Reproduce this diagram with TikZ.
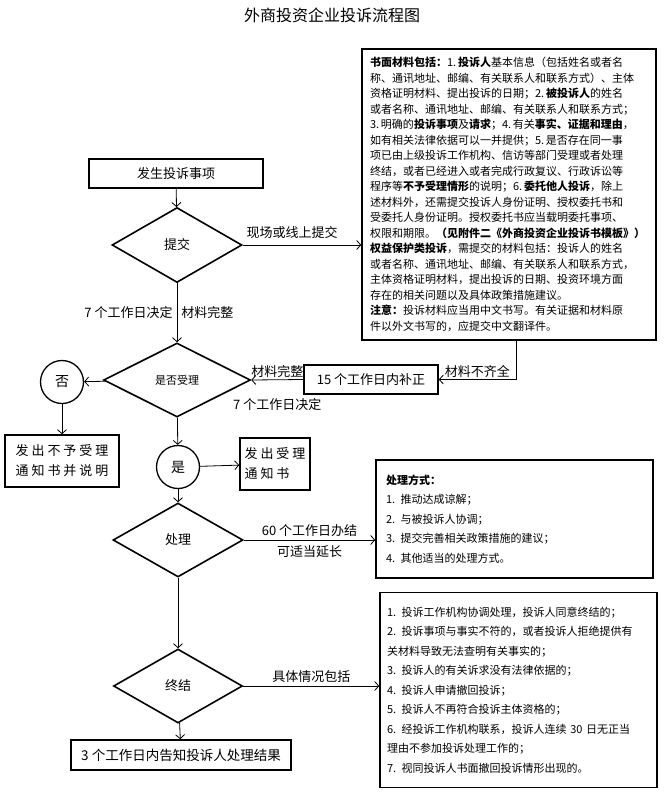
\documentclass[tikz,border=0pt]{standalone}
\usepackage{fontspec}
\setmainfont{Noto Sans CJK SC}
\usetikzlibrary{shapes.geometric,arrows.meta}

\begin{document}
\begin{tikzpicture}[x=1pt,y=-1pt,
  box/.style={draw,line width=1.6pt,inner sep=0pt,font=\fontsize{13}{20}\selectfont},
  dia/.style={draw,diamond,line width=1.6pt,inner sep=0pt,font=\fontsize{13}{16}\selectfont},
  ring/.style={draw,circle,line width=1.3pt,minimum size=43pt,inner sep=0pt,font=\fontsize{14}{16}\selectfont},
  arr/.style={line width=0.8pt,-{Straight Barb[length=4pt,width=9pt]}},
  lbl/.style={font=\fontsize{13}{16}\selectfont,inner sep=1pt}]
\useasboundingbox (0,0) rectangle (664,792);

\node[font=\fontsize{16}{18}\selectfont] (title) at (332,15) {外商投资企业投诉流程图};

%Hauptspalte
\node[box,minimum width=174pt,minimum height=29pt] (start) at (176,173.5) {发生投诉事项};
\node[dia,minimum width=130pt,minimum height=75pt] (submit) at (177,245) {提交};
\node[dia,minimum width=147pt,minimum height=74pt,font=\fontsize{11}{14}\selectfont] (accept) at (177,380) {是否受理};
\node[ring] (no) at (62,382) {否};
\node[box,minimum width=114pt,minimum height=52pt,align=center] (rejbox) at (62,461) {发 出 不 予 受 理\\通 知 书 并 说 明};
\node[ring] (yes) at (178,467) {是};
\node[box,minimum width=70pt,minimum height=52pt,align=left] (accbox) at (275,464) {发 出 受 理\\通 知 书};
\node[dia,minimum width=130pt,minimum height=74pt] (handle) at (178,540) {处理};
\node[dia,minimum width=129pt,minimum height=74pt] (finish) at (178,686) {终结};
\node[box,minimum width=220pt,minimum height=30pt,font=\fontsize{13.5}{16}\selectfont] (result) at (181,755) {3 个工作日内告知投诉人处理结果};
\node[box,minimum width=134pt,minimum height=29pt] (fix) at (371,379.5) {15 个工作日内补正};

%Textkästen
\node[box,minimum width=294pt,minimum height=291pt,text width=278pt,align=left,
  font=\fontsize{11}{15.5}\selectfont] (material) at (509,194.5) {%
\textbf{书面材料包括：}1.\,\textbf{投诉人}基本信息（包括姓名或者名\\
称、通讯地址、邮编、有关联系人和联系方式）、主体\\
资格证明材料、提出投诉的日期；2.\,\textbf{被投诉人}的姓名\\
或者名称、通讯地址、邮编、有关联系人和联系方式；\\
3.\,明确的\textbf{投诉事项}及\textbf{请求}；4.\,有关\textbf{事实、证据和理由}，\\
如有相关法律依据可以一并提供；5.\,是否存在同一事\\
项已由上级投诉工作机构、信访等部门受理或者处理\\
终结，或者已经进入或者完成行政复议、行政诉讼等\\
程序等\textbf{不予受理情形}的说明；6.\,\textbf{委托他人投诉}，除上\\
述材料外，还需提交投诉人身份证明、授权委托书和\\
受委托人身份证明。授权委托书应当载明委托事项、\\
权限和期限。\textbf{（见附件二《外商投资企业投诉书模板》）}\\
\textbf{权益保护类投诉}，需提交的材料包括：投诉人的姓名\\
或者名称、通讯地址、邮编、有关联系人和联系方式，\\
主体资格证明材料，提出投诉的日期、投资环境方面\\
存在的相关问题以及具体政策措施建议。\\
\textbf{注意：}投诉材料应当用中文书写。有关证据和材料原\\
件以外文书写的，应提交中文翻译件。};

\node[box,minimum width=277pt,minimum height=118pt,text width=257pt,align=left,
  font=\fontsize{11}{19.5}\selectfont] (waybox) at (514.5,519) {%
\textbf{处理方式：}\\
1.\enspace 推动达成谅解；\\
2.\enspace 与被投诉人协调；\\
3.\enspace 提交完善相关政策措施的建议；\\
4.\enspace 其他适当的处理方式。};

\node[box,minimum width=277pt,minimum height=195pt,text width=263pt,align=left,
  font=\fontsize{11}{19.5}\selectfont] (endbox) at (518.5,690) {%
1.\enspace 投诉工作机构协调处理，投诉人同意终结的；\\
2.\enspace 投诉事项与事实不符的，或者投诉人拒绝提供有\\
关材料导致无法查明有关事实的；\\
3.\enspace 投诉人的有关诉求没有法律依据的；\\
4.\enspace 投诉人申请撤回投诉；\\
5.\enspace 投诉人不再符合投诉主体资格的；\\
6.\enspace 经投诉工作机构联系，投诉人连续 30 日无正当\\
理由不参加投诉处理工作的；\\
7.\enspace 视同投诉人书面撤回投诉情形出现的。};

%Pfeile
\draw[arr] (start) -- (submit);
\draw[arr] (submit.east) -- (submit.east -| material.west)
  node[lbl,midway,above=5pt,xshift=-10pt] (onsite) {现场或线上提交};
\draw[arr] (submit) -- (accept)
  node[lbl,midway,left=3pt] (days7a) {7 个工作日决定}
  node[lbl,midway,right=3pt] (complete1) {材料完整};
\coordinate (tap) at (516,340);
\draw[arr] (tap) |- (fix.east) node[lbl,pos=0.75,above=1pt] (incomplete) {材料不齐全};
\draw[arr] (fix.west) -- (accept.east)
  node[lbl,midway,above=1pt] (complete2) {材料完整}
  node[lbl,midway,below=17pt] (days7b) {7 个工作日决定};
\draw[arr] (accept) -- (no);
\draw[arr] (no) -- (rejbox);
\draw[arr] (accept) -- (yes);
\draw[arr] (yes) -- (accbox);
\draw[arr] (yes) -- (handle);
\draw[arr] (handle.east) -- (handle.east -| waybox.west)
  node[lbl,midway,above=2pt] (days60) {60 个工作日办结}
  node[lbl,midway,below=4pt] (extend) {可适当延长};
\draw[arr] (handle) -- (finish);
\draw[arr] (finish.east) -- (finish.east -| endbox.west)
  node[lbl,midway,above=2pt] (cases) {具体情况包括};
\draw[arr] (finish) -- (result);

\end{tikzpicture}
\end{document}
